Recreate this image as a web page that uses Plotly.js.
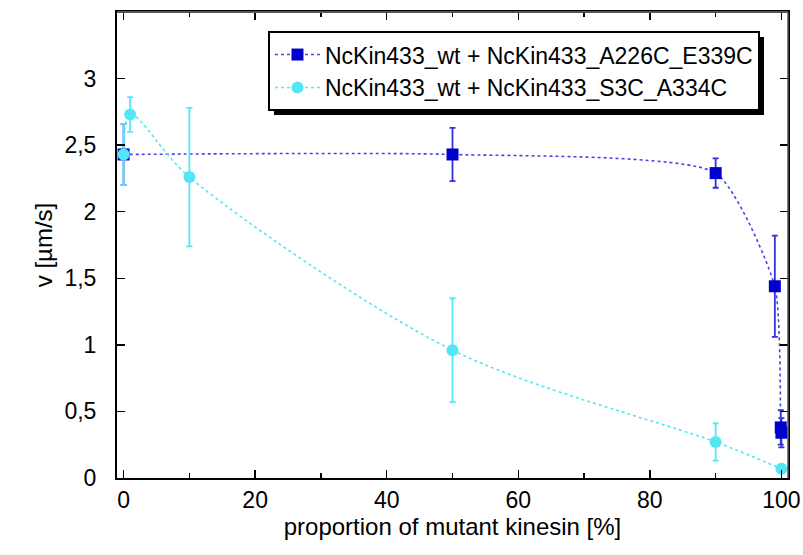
<!DOCTYPE html>
<html>
<head>
<meta charset="utf-8">
<script src="https://cdn.plot.ly/plotly-3.0.1.min.js"></script>
<style>
  html, body { margin: 0; padding: 0; background: #ffffff; }
  #chart { width: 803px; height: 555px; }
</style>
</head>
<body>
<div id="chart"></div>
<script>
// Velocity vs. fraction of mutant kinesin in mixed motor assays
const mixA226 = [0, 50, 90, 99, 99.9, 100];
const velA226 = [2.43, 2.43, 2.29, 1.44, 0.38, 0.34];
const errA226 = [0.23, 0.20, 0.11, 0.38, 0.13, 0.11];

const mixS3C = [0, 1, 10, 50, 90, 100];
const velS3C = [2.43, 2.73, 2.26, 0.96, 0.27, 0.07];
const errS3C = [0.23, 0.13, 0.52, 0.39, 0.14, 0];

const seriesNames = [
  'NcKin433_wt + NcKin433_A226C_E339C',
  'NcKin433_wt + NcKin433_S3C_A334C'
];

const blue = '#0000cc';
const cyan = '#55e6f6';
const fontFamily = 'Liberation Sans, Arial, sans-serif';

const traces = [
  {
    x: mixA226, y: velA226, name: seriesNames[0],
    type: 'scatter', mode: 'lines+markers',
    line: { color: '#4646e6', width: 1.6, dash: 'dot', shape: 'spline', smoothing: 0.55 },
    marker: { symbol: 'square', size: 12, color: blue },
    error_y: { type: 'data', array: errA226, visible: true, color: '#3030dd', thickness: 1.8, width: 3 }
  },
  {
    x: mixS3C, y: velS3C, name: seriesNames[1],
    type: 'scatter', mode: 'lines+markers',
    line: { color: cyan, width: 1.6, dash: 'dot', shape: 'spline', smoothing: 0.9 },
    marker: { symbol: 'circle', size: 12, color: cyan },
    error_y: { type: 'data', array: errS3C, visible: true, color: cyan, thickness: 1.8, width: 3 }
  }
];

const layout = {
  width: 803, height: 555,
  margin: { l: 117, r: 15, t: 12, b: 77 },
  paper_bgcolor: '#ffffff', plot_bgcolor: '#ffffff',
  separators: ',.',
  font: { family: fontFamily, size: 23, color: '#000000' },
  showlegend: true,
  legend: {
    x: 0.225, y: 0.959, xanchor: 'left', yanchor: 'top',
    bgcolor: '#ffffff', bordercolor: '#000000', borderwidth: 2,
    font: { family: fontFamily, size: 23 },
    itemwidth: 45,
    tracegroupgap: 0
  },
  xaxis: {
    range: [-1, 101], dtick: 20, tick0: 0,
    ticks: 'inside', ticklen: 8, tickwidth: 1.5, tickcolor: '#000',
    minor: { dtick: 10, ticks: 'inside', ticklen: 5, tickwidth: 1.5, tickcolor: '#000' },
    showline: true, linecolor: '#000', linewidth: 2, mirror: 'ticks',
    showgrid: false, zeroline: false,
    tickfont: { size: 23 },
    title: { text: 'proportion of mutant kinesin [%]', font: { size: 24 }, standoff: 6 }
  },
  yaxis: {
    range: [0, 3.5], dtick: 0.5, tick0: 0,
    ticks: 'inside', ticklen: 8, tickwidth: 1.5, tickcolor: '#000',
    showline: true, linecolor: '#000', linewidth: 2, mirror: 'ticks',
    showgrid: false, zeroline: false,
    tickfont: { size: 23 },
    title: { text: 'v [µm/s]', font: { size: 24 }, standoff: 12 }
  },
  shapes: [
    // softer top and right frame edges
    { type: 'line', xref: 'paper', yref: 'paper', x0: 0, x1: 1, y0: 1, y1: 1,
      line: { color: '#555555', width: 2 }, layer: 'above' },
    { type: 'line', xref: 'paper', yref: 'paper', x0: 1, x1: 1, y0: 0, y1: 1,
      line: { color: '#555555', width: 1.5 }, layer: 'above' }
  ]
};

// move an svg element sideways on top of whatever transform it already has
function shiftX(el, dx) {
  const prev = el.getAttribute('transform') || '';
  el.setAttribute('transform', 'translate(' + dx + ',0) ' + prev);
}

// y tick numbers and the y title sit a little further out from the frame
function spaceYLabels(gd) {
  gd.querySelectorAll('.yaxislayer-above g.ytick').forEach(function (g) { shiftX(g, -14); });
  gd.querySelectorAll('.g-ytitle text').forEach(function (t) { shiftX(t, -7); });
}

Plotly.newPlot('chart', traces, layout, { displayModeBar: false, staticPlot: true }).then(function (gd) {
  // drop shadow behind the legend box, sized from the rendered legend
  const bg = gd.querySelector('.legend .bg');
  if (!bg) { spaceYLabels(gd); return; }
  const r = bg.getBoundingClientRect();
  const host = gd.getBoundingClientRect();
  const fl = gd._fullLayout;
  const px2x = function (px) { return (px - host.left - fl.margin.l) / fl._size.w; };
  const px2y = function (py) { return 1 - (py - host.top - fl.margin.t) / fl._size.h; };
  const off = 5;
  const shadow = {
    type: 'rect', xref: 'paper', yref: 'paper',
    x0: px2x(r.left + off), x1: px2x(r.right + off),
    y0: px2y(r.bottom + off), y1: px2y(r.top + off),
    fillcolor: '#000000', line: { width: 0 }, layer: 'above'
  };
  return Plotly.relayout(gd, { shapes: layout.shapes.concat([shadow]) }).then(function () {
    spaceYLabels(gd);
  });
});
</script>
</body>
</html>
